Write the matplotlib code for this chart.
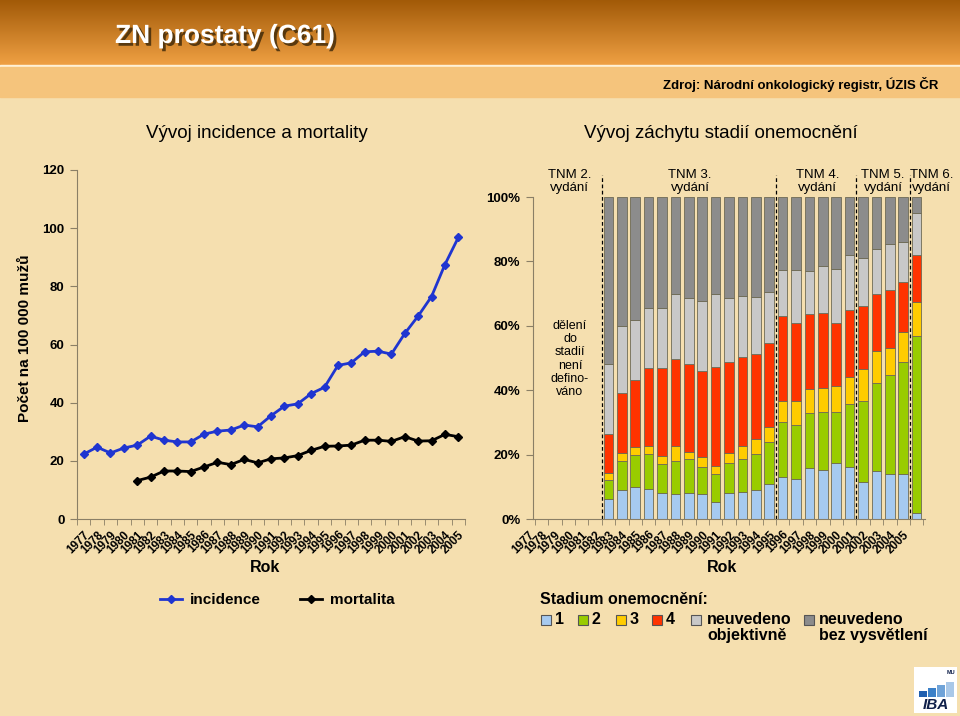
import matplotlib.pyplot as plt
import matplotlib.patheffects as pe
from matplotlib.patches import Rectangle
from matplotlib.colors import LinearSegmentedColormap
import numpy as np

plt.rcParams['font.family'] = ['Liberation Sans', 'DejaVu Sans']

# data - incidence / mortality per 100 000 men
years = list(range(1977, 2006))
incidence = [22.3, 24.7, 22.7, 24.4, 25.4, 28.5, 27.1, 26.5, 26.5, 29.2,
             30.2, 30.6, 32.3, 31.7, 35.5, 38.8, 39.6, 43.1, 45.3, 52.8,
             53.7, 57.5, 57.7, 56.7, 63.8, 69.8, 76.5, 87.5, 96.8]
mort_years = list(range(1981, 2006))
mortality = [13.2, 14.4, 16.5, 16.5, 16.3, 17.9, 19.5, 18.7, 20.5, 19.3,
             20.7, 21.0, 21.8, 23.6, 25.0, 25.1, 25.4, 27.1, 27.1, 26.7,
             28.3, 26.8, 26.9, 29.1, 28.3]

# data - share of stages (%)
stage_years = list(range(1983, 2007))
stage1 = [6.1, 8.9, 9.8, 9.3, 8.0, 7.7, 8.0, 7.7, 5.4, 8.0, 8.5, 8.9, 11.0,
          12.9, 12.5, 15.7, 15.2, 17.5, 16.1, 11.6, 14.9, 13.9, 13.9, 1.8]
stage2 = [6.0, 9.1, 10.0, 10.8, 9.1, 10.3, 10.5, 8.5, 8.6, 9.5, 10.0, 11.3, 12.8,
          17.1, 16.7, 17.1, 17.9, 15.6, 19.5, 25.0, 27.4, 30.8, 35.0, 55.0]
stage3 = [2.1, 2.6, 2.7, 2.7, 2.6, 4.8, 2.4, 3.1, 2.6, 3.1, 4.3, 4.5, 4.9,
          6.7, 7.5, 7.6, 7.7, 8.2, 8.4, 10.1, 9.9, 8.3, 9.1, 10.7]
stage4 = [12.2, 18.5, 20.7, 24.1, 27.2, 26.8, 27.3, 26.7, 30.7, 28.1, 27.6, 26.5, 25.9,
          26.3, 24.1, 23.2, 23.1, 19.5, 20.9, 19.5, 17.7, 18.1, 15.5, 14.5]
unknown_obj = [21.8, 20.8, 18.5, 18.5, 18.7, 20.2, 20.3, 21.7, 22.5, 19.8, 19.0, 17.6, 16.0,
               14.3, 16.5, 13.4, 14.8, 16.9, 17.1, 15.0, 13.8, 14.2, 12.6, 13.1]
unknown_na = [51.8, 40.1, 38.3, 34.6, 34.4, 30.2, 31.5, 32.3, 30.2, 31.5, 30.6, 31.2, 29.4,
              22.7, 22.7, 23.0, 21.3, 22.3, 18.0, 18.8, 16.3, 14.7, 13.9, 4.9]
stage_labels = ['1', '2', '3', '4', 'neuvedeno\nobjektivně', 'neuvedeno\nbez vysvětlení']
stage_colors = ['#A6CAF0', '#99CC00', '#FFCC00', '#FF3300', '#C8C8C8', '#8C8C8C']

tnm_labels = ['TNM 2.\nvydání', 'TNM 3.\nvydání', 'TNM 4.\nvydání', 'TNM 5.\nvydání', 'TNM 6.\nvydání']
tnm_starts = [1983, 1996, 2002, 2006]

W, H = 960, 716
BG = '#F5DFAF'
SPINE = '#8A7F66'


def box(x0, y0, x1, y1):
    return [x0 / W, 1 - y1 / H, (x1 - x0) / W, (y1 - y0) / H]


fig = plt.figure(figsize=(9.6, 7.16), dpi=100)
fig.patch.set_facecolor(BG)

# background / header in pixel coordinates
bg = fig.add_axes([0, 0, 1, 1], zorder=-5)
bg.axis('off')
grad = np.linspace(0, 1, 64).reshape(-1, 1)
hdr = LinearSegmentedColormap.from_list('hdr', ['#A25A08', '#EFA043'])
bg.imshow(grad, cmap=hdr, extent=[0, W, 65, 0], aspect='auto')
bg.add_patch(Rectangle((0, 65), W, 2, color='#FFF1D6'))
bg.add_patch(Rectangle((0, 67), W, 30, color='#F5C47C'))
bg.set_xlim(0, W)
bg.set_ylim(H, 0)

bg.text(115, 36, 'ZN prostaty (C61)', color='white', fontsize=19, fontweight='bold',
        va='center', ha='left',
        path_effects=[pe.SimplePatchShadow(offset=(2, -2), shadow_rgbFace='#3A2608', alpha=0.8),
                      pe.Normal()])
bg.text(938, 84, 'Zdroj: Národní onkologický registr, ÚZIS ČR', fontsize=9.5, fontweight='bold',
        ha='right', va='center')
bg.text(257, 133, 'Vývoj incidence a mortality', fontsize=13.5, ha='center', va='center')
bg.text(721, 133, 'Vývoj záchytu stadií onemocnění', fontsize=13.5, ha='center', va='center')
bg.text(25, 338, 'Počet na 100 000 mužů', fontsize=11, fontweight='bold', rotation=90,
        ha='center', va='center')
bg.text(265, 568, 'Rok', fontsize=11.5, fontweight='bold', ha='center', va='center')
bg.text(722, 568, 'Rok', fontsize=11.5, fontweight='bold', ha='center', va='center')

# ---- left chart: incidence and mortality
ax1 = fig.add_axes(box(77, 170, 465, 519))
ax1.patch.set_alpha(0)
xi = np.arange(len(years))
xm = np.array(mort_years) - years[0]
ax1.plot(xi, incidence, color='#1F35D0', lw=2, marker='D', ms=4, label='incidence')
ax1.plot(xm, mortality, color='black', lw=2, marker='D', ms=4, label='mortalita')
ax1.set_xlim(-0.5, len(years) - 0.5)
ax1.set_ylim(0, 120)
ax1.set_yticks(range(0, 121, 20))
ax1.set_xticks(xi)
ax1.set_xticklabels([str(y) for y in years], rotation=45, ha='right', rotation_mode='anchor',
                    fontsize=8.5, fontweight='bold')
ax1.set_xticks(np.arange(-0.5, len(years)), minor=True)
ax1.tick_params(axis='x', which='major', length=0, pad=7)
ax1.tick_params(axis='x', which='minor', length=4, color=SPINE)
ax1.tick_params(axis='y', length=5, color=SPINE, labelsize=9.5, pad=4)
for t in ax1.get_yticklabels():
    t.set_fontweight('bold')
for s in ['top', 'right']:
    ax1.spines[s].set_visible(False)
for s in ['left', 'bottom']:
    ax1.spines[s].set_color(SPINE)

fig.legend(handles=ax1.get_lines(), loc='center', bbox_to_anchor=(277 / W, 1 - 600 / H),
           ncol=2, frameon=False, handlelength=1.45, handletextpad=0.5, columnspacing=2.6,
           prop={'size': 11, 'weight': 'bold'})

# ---- right chart: stages
x0px, step = 528, 13.4
xl = (-0.3, 29.6)
ax2 = fig.add_axes(box(x0px + xl[0] * step, 197, x0px + xl[1] * step, 519))
ax2.patch.set_alpha(0)
xs = np.array(stage_years) - years[0]
bottom = np.zeros(len(xs))
for vals, col in zip([stage1, stage2, stage3, stage4, unknown_obj, unknown_na], stage_colors):
    v = np.array(vals) / 100.0
    ax2.bar(xs, v, bottom=bottom, width=0.72, color=col, edgecolor='#6E6A55', linewidth=0.6)
    bottom += v
ax2.set_xlim(*xl)
ax2.set_ylim(0, 1)
ax2.spines['left'].set_position(('data', 0.37))
ax2.spines['bottom'].set_bounds(0.37, xl[1])
for s in ['top', 'right']:
    ax2.spines[s].set_visible(False)
for s in ['left', 'bottom']:
    ax2.spines[s].set_color(SPINE)
ax2.set_yticks(np.arange(0, 1.01, 0.2))
ax2.set_yticklabels([f'{int(round(v * 100))}%' for v in np.arange(0, 1.01, 0.2)],
                    fontsize=9.5, fontweight='bold')
ax2.tick_params(axis='y', length=5, color=SPINE, pad=4)
ax2.set_xticks(xi)
ax2.set_xticklabels([str(y) for y in years], rotation=45, ha='right', rotation_mode='anchor',
                    fontsize=8.5, fontweight='bold')
ax2.set_xticks(np.arange(0.5, 29.6, 1), minor=True)
ax2.tick_params(axis='x', which='major', length=0, pad=7)
ax2.tick_params(axis='x', which='minor', length=4, color=SPINE)

bounds = [xl[0]] + [y - years[0] - 0.5 for y in tnm_starts]
for b in bounds[1:]:
    ax2.plot([b, b], [0, 1.068], ls='--', color='black', lw=0.9, clip_on=False, dashes=(3, 2))
tnm_x = [3.13, 12.1, 21.6, 26.5, 30.1]
for tx, lab in zip(tnm_x, tnm_labels):
    ax2.text(tx, 1.008, lab, ha='center', va='bottom', fontsize=9.5, linespacing=1.2,
             clip_on=False)
ax2.text(3.13, 0.497, 'dělení\ndo\nstadií\nnení\ndefino-\nváno', ha='center', va='center',
         fontsize=9, linespacing=1.15)

# ---- stage legend
bg.text(540, 600, 'Stadium onemocnění:', fontsize=11.5, fontweight='bold', va='center')
box_x = [541, 578, 616, 652, 691, 804]
text_x = [555, 592, 630, 666, 707, 819]
for bx, tx, lab, col in zip(box_x, text_x, stage_labels, stage_colors):
    bg.add_patch(Rectangle((bx, 615), 10, 10, facecolor=col, edgecolor='#555555', lw=0.8))
    bg.text(tx, 612, lab, fontsize=11.5, fontweight='bold', va='top', ha='left',
            linespacing=1.1)

# ---- IBA logo
bg.add_patch(Rectangle((914, 667), 43, 46, facecolor='white', edgecolor='none'))
logo_h = [6, 9, 12, 15]
logo_c = ['#1F5FB0', '#3B80C8', '#6FA3D8', '#A9C8E8']
for i, (hh, cc) in enumerate(zip(logo_h, logo_c)):
    bg.add_patch(Rectangle((919 + i * 9, 697 - hh), 8, hh, facecolor=cc, edgecolor='none'))
bg.text(936, 705, 'IBA', fontsize=11, fontweight='bold', style='italic', color='#10204A',
        ha='center', va='center')
bg.text(951, 672, 'MU', fontsize=4, fontweight='bold', color='#10204A', ha='center', va='center')

fig.savefig('out.png', dpi=100, facecolor=fig.get_facecolor())
